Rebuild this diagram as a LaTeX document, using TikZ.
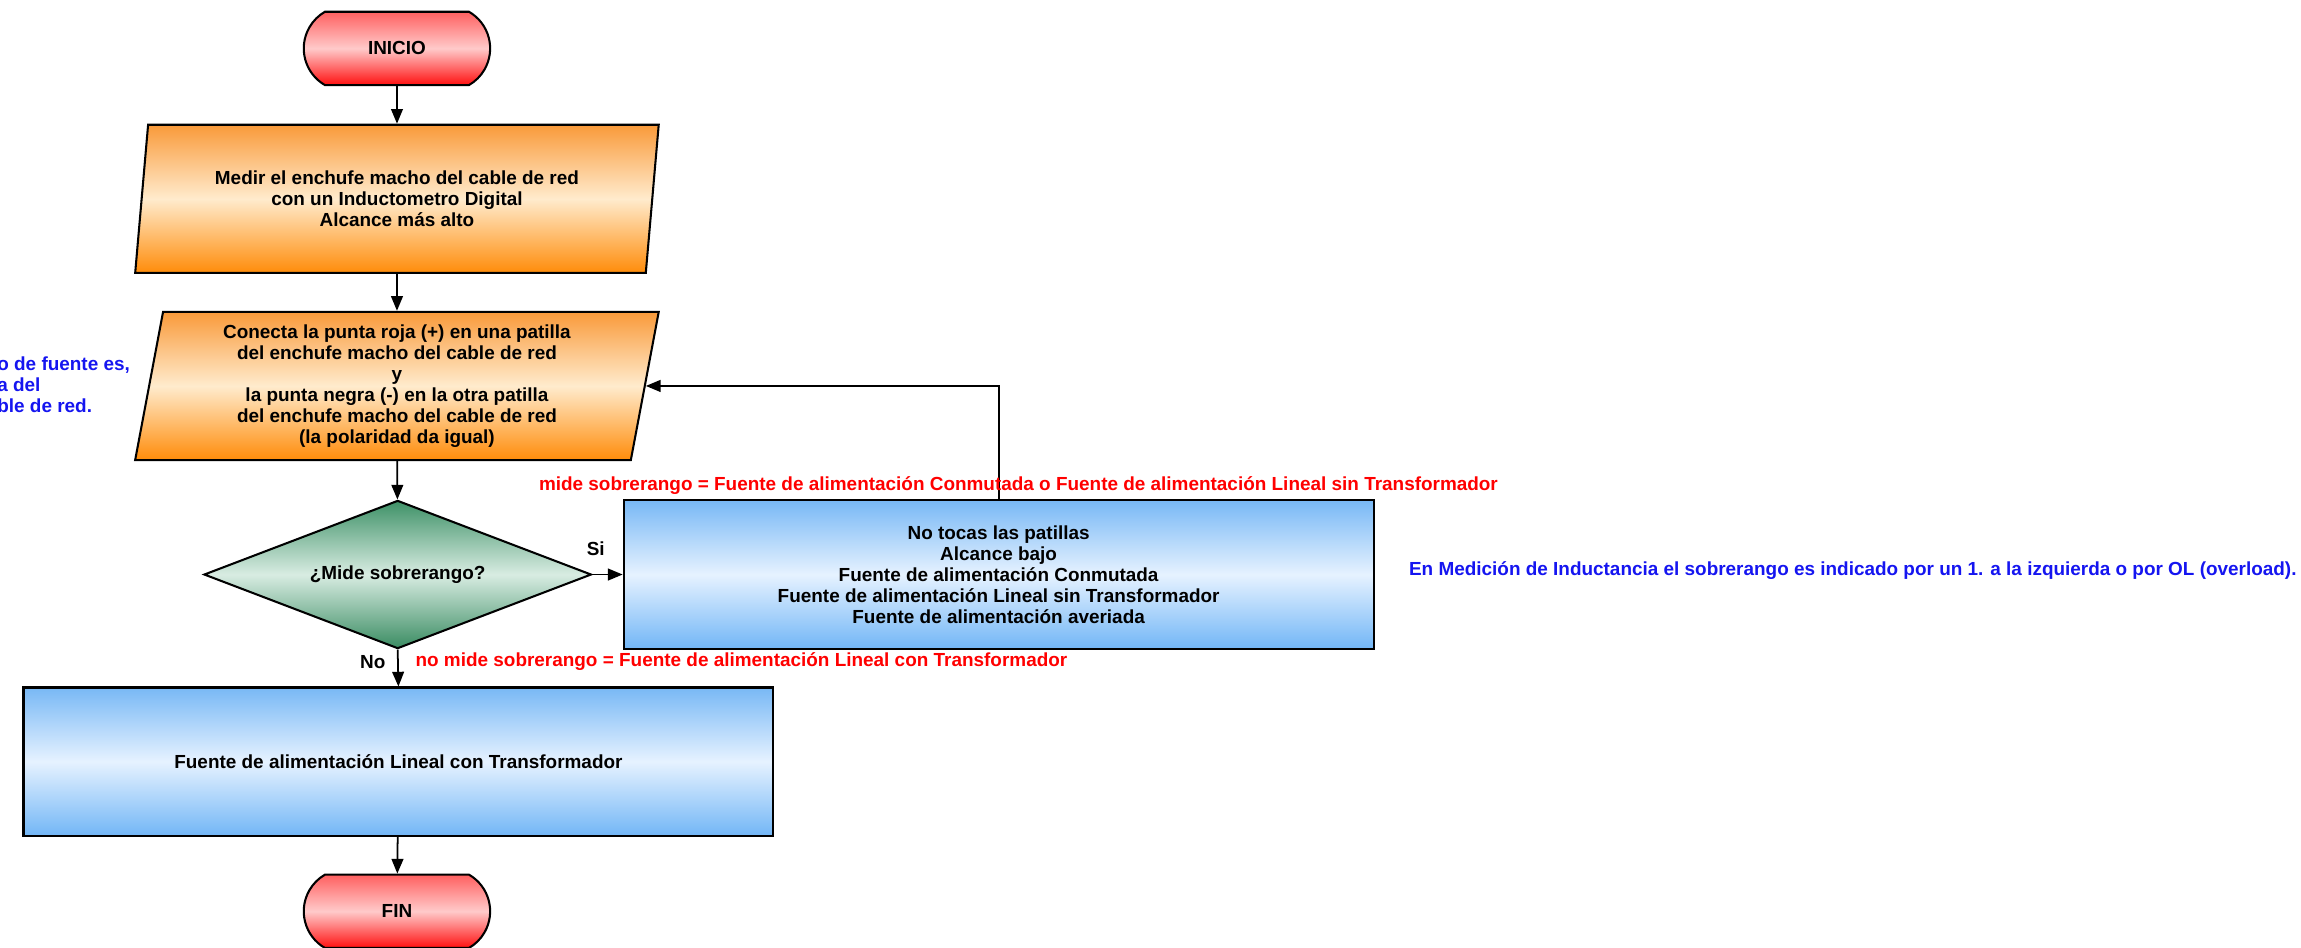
\documentclass[tikz,border=0pt]{standalone}
\usepackage{fontspec}
\setmainfont{Liberation Sans}
\usetikzlibrary{shapes.geometric,shapes.misc,arrows.meta}
\definecolor{termtop}{HTML}{FF6060}
\definecolor{termmid}{HTML}{FFCACA}
\definecolor{termbot}{HTML}{FF1010}
\definecolor{paratop}{HTML}{F99A3A}
\definecolor{paramid}{HTML}{FFEBCD}
\definecolor{parabot}{HTML}{FF8C0A}
\definecolor{bluetop}{HTML}{78B8F5}
\definecolor{bluemid}{HTML}{E6F2FF}
\definecolor{bluebot}{HTML}{72B6F6}
\definecolor{greentop}{HTML}{3E9167}
\definecolor{greenmid}{HTML}{D8ECE2}
\definecolor{greenbot}{HTML}{3A8C62}
\definecolor{lblred}{HTML}{FF0000}
\definecolor{lblblue}{HTML}{1515F0}
\begin{document}
\begin{tikzpicture}[x=1pt,y=-1pt,
  txt/.style={font=\fontsize{12.9}{14.3}\selectfont\bfseries, align=center, inner sep=0pt},
  base/.style={txt, draw=black, line width=1.4pt},
  term/.style={base, rounded rectangle, rounded rectangle arc length=120, minimum width=127pt, minimum height=50pt,
    top color=termtop, bottom color=termbot, middle color=termmid},
  para/.style={base, trapezium, trapezium left angle=80.4, trapezium right angle=99.6,
    trapezium stretches=true, minimum width=357pt, minimum height=101pt,
    top color=paratop, bottom color=parabot, middle color=paramid},
  dec/.style={base, diamond, aspect=2.6, minimum width=264pt, minimum height=101pt,
    top color=greentop, bottom color=greenbot, middle color=greenmid},
  box/.style={base, rectangle, minimum width=511pt, minimum height=101pt,
    top color=bluetop, bottom color=bluebot, middle color=bluemid},
  redlbl/.style={txt, text=lblred},
  bluelbl/.style={txt, text=lblblue},
  arr/.style={line width=1.2pt, -{Triangle[length=10pt,width=8pt]}}
]
\useasboundingbox (0,0) rectangle (1568,646);

\node[term] (inicio) at (270.5,33) {INICIO};
\node[para] (p1) at (270.5,135.5) {Medir el enchufe macho del cable de red\\con un Inductometro Digital\\Alcance más alto};
\node[para] (p2) at (270.5,263) {Conecta la punta roja (+) en una patilla\\del enchufe macho del cable de red\\y\\la punta negra (-) en la otra patilla\\del enchufe macho del cable de red\\(la polaridad da igual)};
\node[dec] (d) at (271,391.5) {¿Mide sobrerango?};
\node[box] (b2) at (680.5,391.5) {No tocas las patillas\\Alcance bajo\\Fuente de alimentación Conmutada\\Fuente de alimentación Lineal sin Transformador\\Fuente de alimentación averiada};
\node[box] (b3) at (271.5,519) {Fuente de alimentación Lineal con Transformador};
\node[term] (fin) at (270.5,621) {FIN};

\draw[arr] (inicio) -- (p1);
\draw[arr] (p1) -- (p2);
\draw[arr] (p2) -- (d);
\draw[arr] (d.east) -- (b2.west);
\draw[arr] (d.south) -- (b3.north);
\draw[arr] (b3) -- (fin);
\draw[arr] (b2.north) |- (p2.east);

\node[txt] (si) at (406,374) {Si};
\node[txt] (no) at (254,451) {No};
\node[redlbl] (l1) at (694,331) {mide sobrerango = Fuente de alimentación Conmutada o Fuente de alimentación Lineal sin Transformador};
\node[redlbl, anchor=west] (l2) at (283,451) {no mide sobrerango = Fuente de alimentación Lineal con Transformador};
\node[bluelbl, anchor=west] (n1) at (960,389) {En Medición de Inductancia el sobrerango es indicado por un 1. a la izquierda o por OL (overload).};
\node[bluelbl, anchor=north west, align=left] (n2) at (-2,243) {o de fuente es,\\a del\\ble de red.};
\end{tikzpicture}
\end{document}
